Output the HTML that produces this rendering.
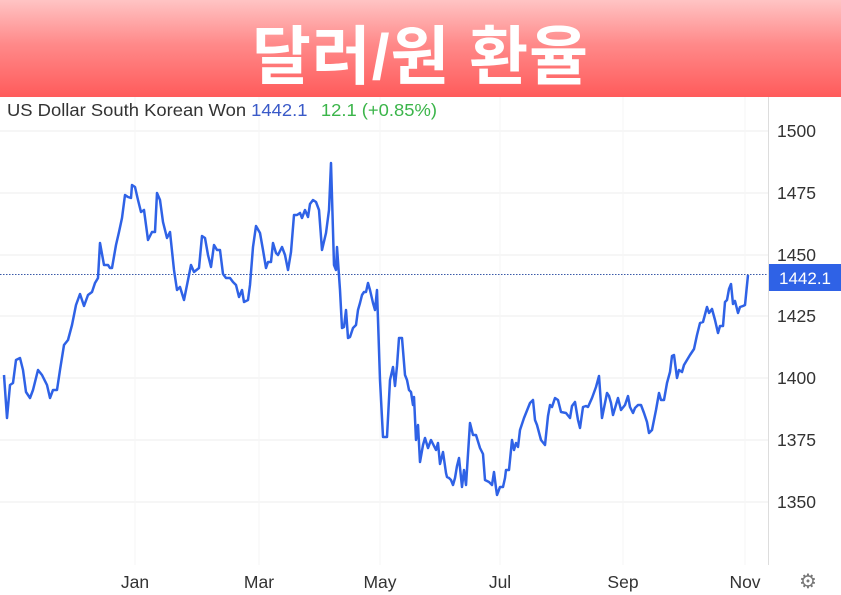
<!DOCTYPE html>
<html><head><meta charset="utf-8"><style>
body{margin:0;width:841px;height:595px;overflow:hidden;background:#fff;font-family:"Liberation Sans",Arial,sans-serif}
.hdr{position:absolute;left:0;top:0;width:841px;height:97px;background:linear-gradient(180deg,#ffc4c4 0%,#ff8a8a 45%,#ff5b5b 100%)}
.t{position:absolute;left:0;top:6px;width:841px;text-align:center;color:#fff;font:bold 64px "Liberation Sans","Noto Sans CJK KR",sans-serif;letter-spacing:1px}
</style></head><body>
<div class="hdr"><div class="t">달러/원 환율</div></div>
<svg style="position:absolute;left:0;top:0" width="841" height="595">
<g stroke="#ededed" stroke-width="1">
<line x1="0" y1="131" x2="768" y2="131"/><line x1="0" y1="193" x2="768" y2="193"/><line x1="0" y1="255" x2="768" y2="255"/><line x1="0" y1="316" x2="768" y2="316"/><line x1="0" y1="378" x2="768" y2="378"/><line x1="0" y1="440" x2="768" y2="440"/><line x1="0" y1="502" x2="768" y2="502"/>
</g>
<g stroke="#f5f5f5" stroke-width="1">
<line x1="135" y1="97" x2="135" y2="565"/><line x1="259" y1="97" x2="259" y2="565"/><line x1="380" y1="97" x2="380" y2="565"/><line x1="500" y1="97" x2="500" y2="565"/><line x1="623" y1="97" x2="623" y2="565"/><line x1="745" y1="97" x2="745" y2="565"/>
</g>
<line x1="768.5" y1="97" x2="768.5" y2="565" stroke="#ddd"/>
<line x1="0" y1="274.5" x2="768" y2="274.5" stroke="#3a5aa8" stroke-width="1" stroke-dasharray="1.5,1.5"/>
<polyline fill="none" stroke="#2f62e6" stroke-width="2.5" stroke-linejoin="round" points="4,375 7,418 10,385 13,383 16,360 20,358 23,370 26,392 30,398 33,390 38,370 42,375 47,385 50,398 53,390 57,390 60,370 64,345 68,340 72,325 76,305 80,294 84,306 88,295 92,292 95,283 98,278 100,243 104,265 108,265 110,268 112,268 116,245 119,232 122,218 125,195 128,197 131,198 132,185 135,187 138,200 141,212 144,210 148,240 152,232 155,232 157,193 160,200 163,222 167,238 170,232 174,270 177,290 180,287 184,300 188,280 191,265 194,272 199,268 202,236 205,238 208,255 211,267 214,245 217,250 220,250 223,274 226,278 230,278 233,282 236,285 239,297 242,290 244,302 248,300 250,285 253,247 256,226 260,233 263,250 266,268 268,262 271,262 273,243 276,253 278,255 282,247 285,255 288,270 291,252 294,215 297,215 300,213 302,218 305,210 308,217 310,204 313,200 316,202 319,210 322,250 326,233 329,210 331,163 334,265 336,270 337,247 340,290 342,328 344,327 346,310 348,338 350,337 353,328 356,325 358,310 360,303 362,295 364,292 366,292 368,283 370,290 373,303 375,310 377,290 380,380 383,437 387,437 390,380 393,367 395,386 397,366 399,338 402,338 405,375 407,380 409,390 411,392 413,405 414,397 416,440 418,425 420,462 423,445 425,438 428,448 431,440 436,450 438,443 440,464 443,452 446,473 447,477 449,478 451,480 453,485 455,478 457,466 459,458 462,487 464,470 466,485 470,423 473,435 476,435 480,448 483,454 485,480 489,482 492,485 494,472 496,488 497,495 500,487 503,487 505,478 506,470 509,470 512,440 514,450 516,443 518,447 520,430 524,418 526,413 530,403 533,400 535,420 537,425 541,440 545,445 548,416 550,405 552,407 555,398 558,400 561,412 566,413 570,418 572,406 575,402 578,420 580,428 583,407 586,406 588,407 592,398 596,387 599,376 602,418 604,408 607,393 609,396 611,403 613,415 618,398 621,410 625,405 628,396 630,407 633,413 635,408 638,405 641,405 644,413 647,422 649,433 652,430 656,410 659,393 661,400 664,400 667,383 670,372 672,356 674,355 677,378 679,370 682,372 684,365 687,360 690,355 694,349 697,335 700,323 703,322 707,307 709,313 712,309 715,320 718,333 720,326 723,326 725,302 727,300 729,289 731,284 733,304 735,301 738,313 740,307 743,306 745,305 748,275"/>
<rect x="769" y="264" width="72" height="27" fill="#2f62e6"/>
<text x="779" y="284" fill="#fff" font-size="17">1442.1</text>
<g font-size="17.5" fill="#333">
<text x="777" y="137">1500</text><text x="777" y="199">1475</text><text x="777" y="261">1450</text><text x="777" y="322">1425</text><text x="777" y="384">1400</text><text x="777" y="446">1375</text><text x="777" y="508">1350</text>
<g text-anchor="middle"><text x="135" y="588">Jan</text><text x="259" y="588">Mar</text><text x="380" y="588">May</text><text x="500" y="588">Jul</text><text x="623" y="588">Sep</text><text x="745" y="588">Nov</text></g>
</g>
<text x="7" y="116" font-size="17.5" fill="#333" textLength="430" lengthAdjust="spacingAndGlyphs">US Dollar South Korean Won <tspan fill="#3a5ac8">1442.1</tspan><tspan dx="14" fill="#3bb54a">12.1 (+0.85%)</tspan></text>
<text x="808" y="588" font-size="20" fill="#777" text-anchor="middle">⚙</text>
</svg>
</body></html>
